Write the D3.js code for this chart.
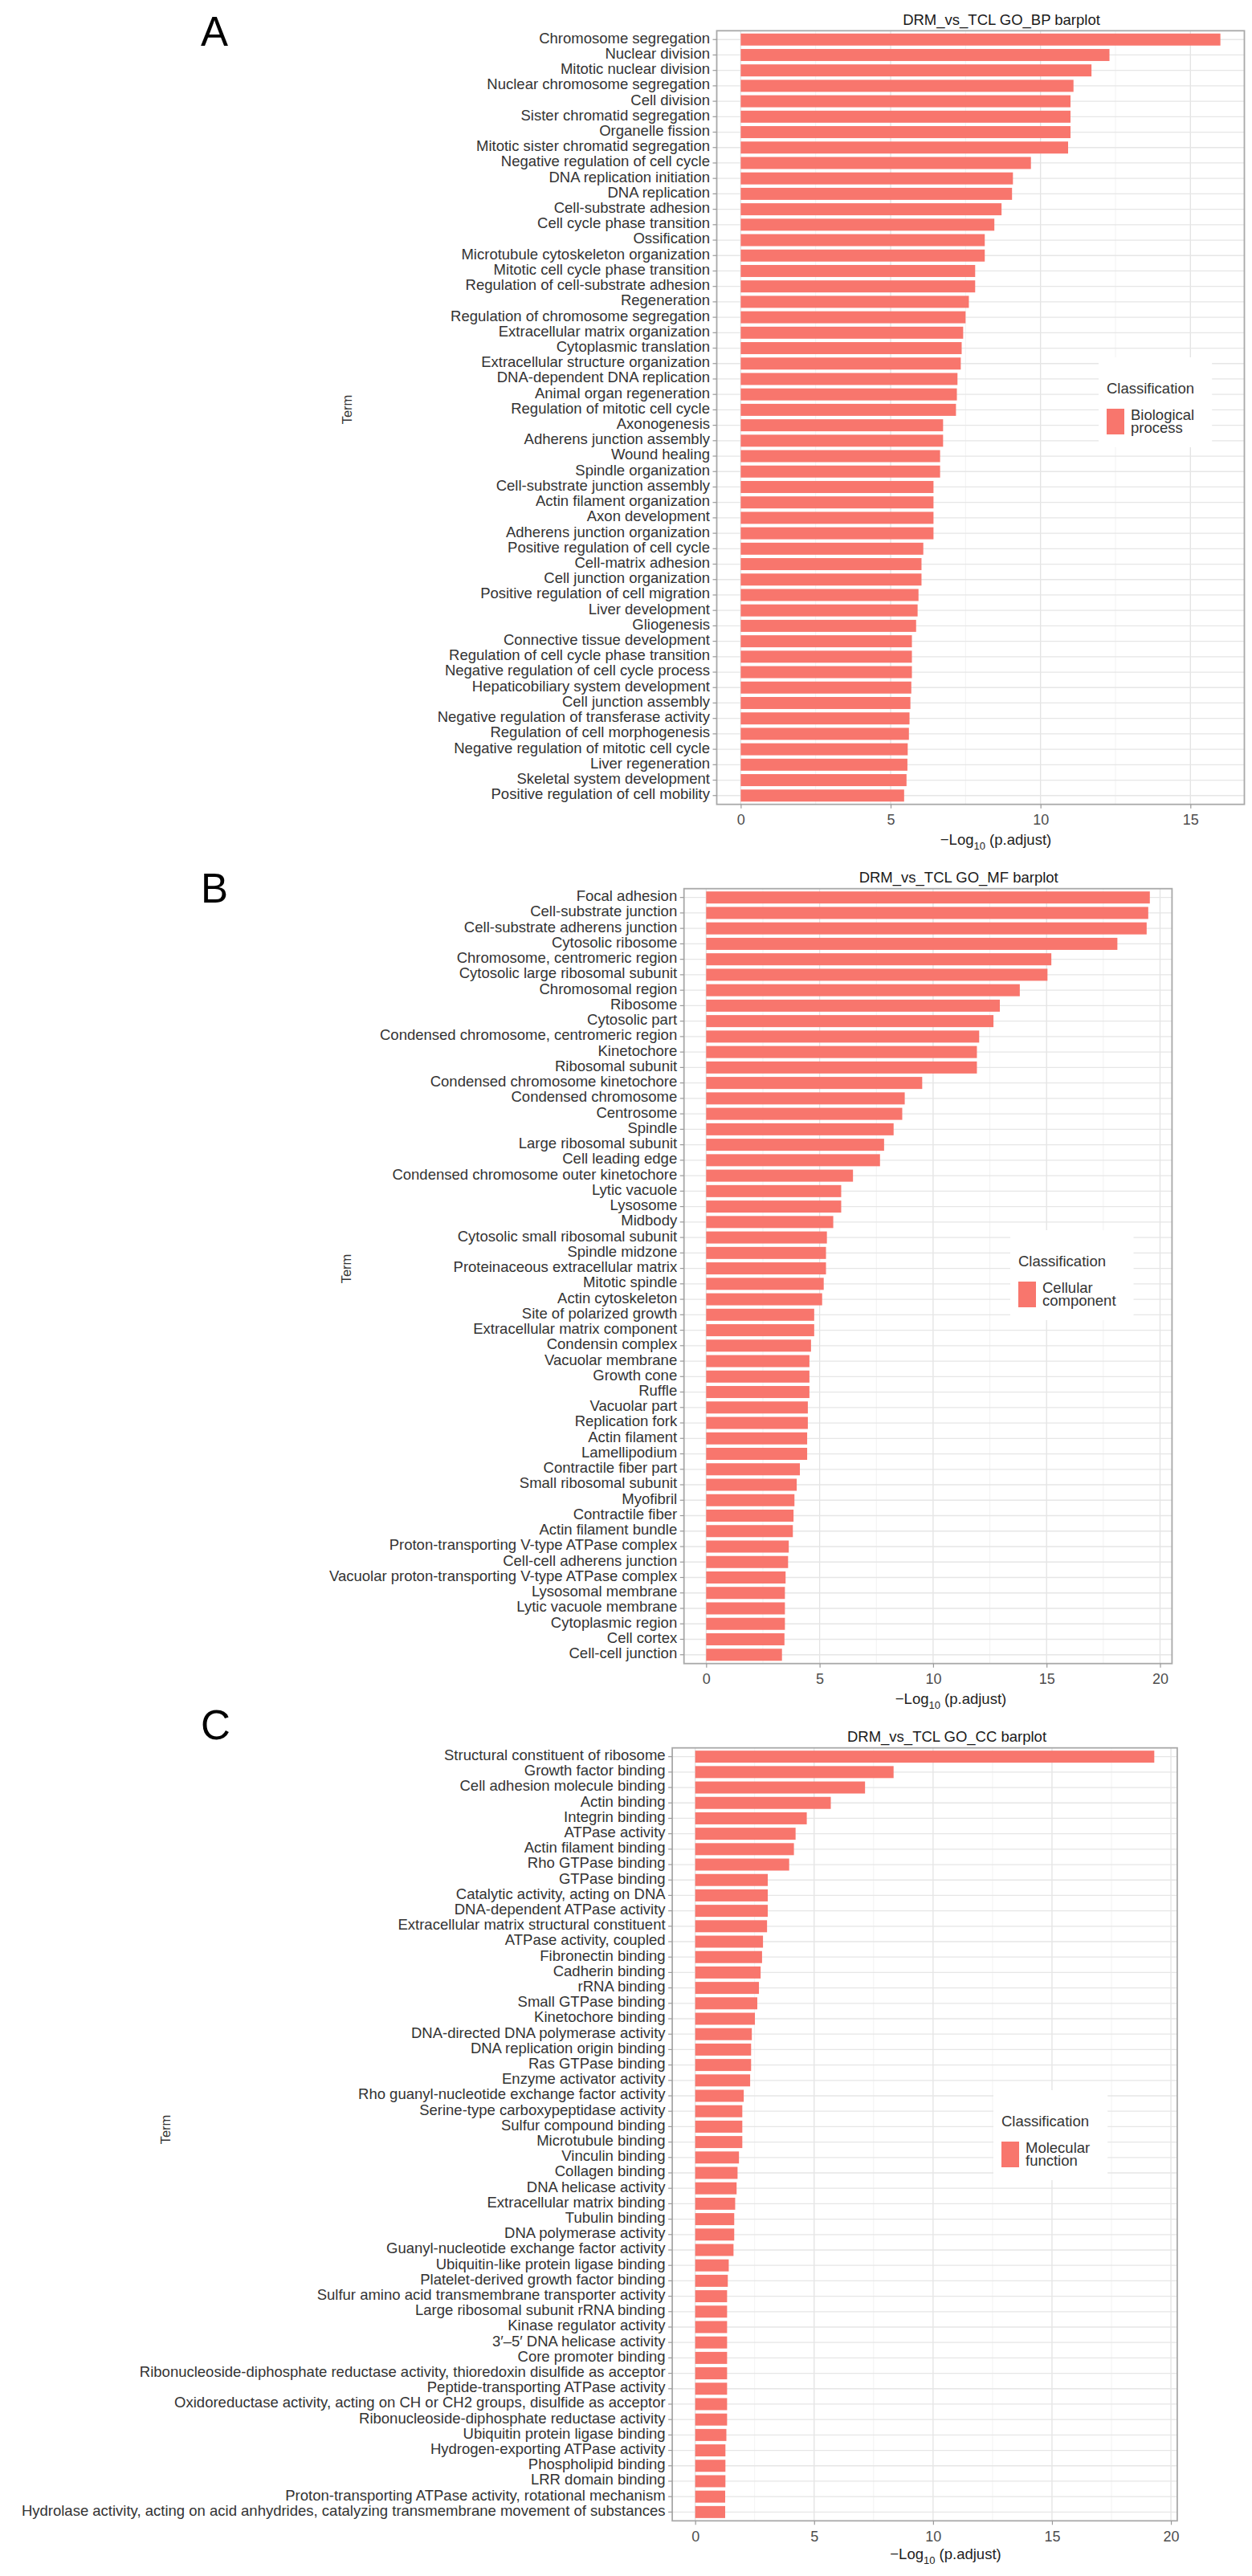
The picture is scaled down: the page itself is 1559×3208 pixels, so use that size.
<!DOCTYPE html>
<html>
<head>
<meta charset="utf-8">
<script src="https://cdn.jsdelivr.net/npm/d3@7"></script>
<style>
  body { margin: 0; background: #fff; }
  svg { display: block; }
  text { font-family: "Liberation Sans", Arial, Helvetica, sans-serif; }
</style>
</head>
<body>
<div id="chart"></div>
<script>
// ---- data ----
const bpTerms = [
  "Chromosome segregation", "Nuclear division", "Mitotic nuclear division",
  "Nuclear chromosome segregation", "Cell division", "Sister chromatid segregation",
  "Organelle fission", "Mitotic sister chromatid segregation", "Negative regulation of cell cycle",
  "DNA replication initiation", "DNA replication", "Cell-substrate adhesion",
  "Cell cycle phase transition", "Ossification", "Microtubule cytoskeleton organization",
  "Mitotic cell cycle phase transition", "Regulation of cell-substrate adhesion", "Regeneration",
  "Regulation of chromosome segregation", "Extracellular matrix organization", "Cytoplasmic translation",
  "Extracellular structure organization", "DNA-dependent DNA replication", "Animal organ regeneration",
  "Regulation of mitotic cell cycle", "Axonogenesis", "Adherens junction assembly",
  "Wound healing", "Spindle organization", "Cell-substrate junction assembly",
  "Actin filament organization", "Axon development", "Adherens junction organization",
  "Positive regulation of cell cycle", "Cell-matrix adhesion", "Cell junction organization",
  "Positive regulation of cell migration", "Liver development", "Gliogenesis",
  "Connective tissue development", "Regulation of cell cycle phase transition", "Negative regulation of cell cycle process",
  "Hepaticobiliary system development", "Cell junction assembly", "Negative regulation of transferase activity",
  "Regulation of cell morphogenesis", "Negative regulation of mitotic cell cycle", "Liver regeneration",
  "Skeletal system development", "Positive regulation of cell mobility"
];
const bpValues = [
  16.0, 12.3, 11.7, 11.1, 11.0, 11.0, 11.0, 10.92, 9.68, 9.08,
  9.05, 8.7, 8.46, 8.14, 8.14, 7.82, 7.82, 7.61, 7.5, 7.42,
  7.37, 7.34, 7.23, 7.21, 7.18, 6.75, 6.75, 6.65, 6.65, 6.43,
  6.43, 6.43, 6.43, 6.09, 6.03, 6.03, 5.93, 5.9, 5.85, 5.71,
  5.71, 5.71, 5.69, 5.66, 5.63, 5.61, 5.57, 5.56, 5.53, 5.45
];

const ccTerms = [
  "Focal adhesion", "Cell-substrate junction", "Cell-substrate adherens junction",
  "Cytosolic ribosome", "Chromosome, centromeric region", "Cytosolic large ribosomal subunit",
  "Chromosomal region", "Ribosome", "Cytosolic part",
  "Condensed chromosome, centromeric region", "Kinetochore", "Ribosomal subunit",
  "Condensed chromosome kinetochore", "Condensed chromosome", "Centrosome",
  "Spindle", "Large ribosomal subunit", "Cell leading edge",
  "Condensed chromosome outer kinetochore", "Lytic vacuole", "Lysosome",
  "Midbody", "Cytosolic small ribosomal subunit", "Spindle midzone",
  "Proteinaceous extracellular matrix", "Mitotic spindle", "Actin cytoskeleton",
  "Site of polarized growth", "Extracellular matrix component", "Condensin complex",
  "Vacuolar membrane", "Growth cone", "Ruffle",
  "Vacuolar part", "Replication fork", "Actin filament",
  "Lamellipodium", "Contractile fiber part", "Small ribosomal subunit",
  "Myofibril", "Contractile fiber", "Actin filament bundle",
  "Proton-transporting V-type ATPase complex", "Cell-cell adherens junction", "Vacuolar proton-transporting V-type ATPase complex",
  "Lysosomal membrane", "Lytic vacuole membrane", "Cytoplasmic region",
  "Cell cortex", "Cell-cell junction"
];
const ccValues = [
  19.55, 19.48, 19.41, 18.12, 15.21, 15.04, 13.82, 12.94, 12.66, 12.03,
  11.93, 11.93, 9.52, 8.75, 8.64, 8.26, 7.84, 7.66, 6.47, 5.95,
  5.95, 5.6, 5.32, 5.28, 5.28, 5.18, 5.11, 4.76, 4.76, 4.62,
  4.55, 4.55, 4.55, 4.48, 4.48, 4.45, 4.45, 4.13, 3.99, 3.89,
  3.85, 3.82, 3.64, 3.61, 3.5, 3.47, 3.47, 3.47, 3.45, 3.34
];

const mfTerms = [
  "Structural constituent of ribosome", "Growth factor binding", "Cell adhesion molecule binding",
  "Actin binding", "Integrin binding", "ATPase activity",
  "Actin filament binding", "Rho GTPase binding", "GTPase binding",
  "Catalytic activity, acting on DNA", "DNA-dependent ATPase activity", "Extracellular matrix structural constituent",
  "ATPase activity, coupled", "Fibronectin binding", "Cadherin binding",
  "rRNA binding", "Small GTPase binding", "Kinetochore binding",
  "DNA-directed DNA polymerase activity", "DNA replication origin binding", "Ras GTPase binding",
  "Enzyme activator activity", "Rho guanyl-nucleotide exchange factor activity", "Serine-type carboxypeptidase activity",
  "Sulfur compound binding", "Microtubule binding", "Vinculin binding",
  "Collagen binding", "DNA helicase activity", "Extracellular matrix binding",
  "Tubulin binding", "DNA polymerase activity", "Guanyl-nucleotide exchange factor activity",
  "Ubiquitin-like protein ligase binding", "Platelet-derived growth factor binding", "Sulfur amino acid transmembrane transporter activity",
  "Large ribosomal subunit rRNA binding", "Kinase regulator activity", "3\u2032\u20135\u2032 DNA helicase activity",
  "Core promoter binding", "Ribonucleoside-diphosphate reductase activity, thioredoxin disulfide as acceptor", "Peptide-transporting ATPase activity",
  "Oxidoreductase activity, acting on CH or CH2 groups, disulfide as acceptor", "Ribonucleoside-diphosphate reductase activity", "Ubiquitin protein ligase binding",
  "Hydrogen-exporting ATPase activity", "Phospholipid binding", "LRR domain binding",
  "Proton-transporting ATPase activity, rotational mechanism", "Hydrolase activity, acting on acid anhydrides, catalyzing transmembrane movement of substances"
];
const mfValues = [
  19.3, 8.34, 7.14, 5.7, 4.69, 4.22, 4.15, 3.95, 3.05, 3.05,
  3.05, 3.02, 2.85, 2.81, 2.75, 2.68, 2.61, 2.51, 2.38, 2.35,
  2.35, 2.31, 2.04, 1.98, 1.98, 1.98, 1.84, 1.78, 1.74, 1.68,
  1.64, 1.64, 1.61, 1.41, 1.37, 1.34, 1.34, 1.34, 1.34, 1.34,
  1.34, 1.34, 1.34, 1.34, 1.31, 1.27, 1.27, 1.27, 1.26, 1.26
];

const bpTicks = [0, 5, 10, 15];
const ccTicks = [0, 5, 10, 15, 20];
const mfTicks = [0, 5, 10, 15, 20];

// ---- layout of the three stacked panels ----
const panels = [
  { letter: "A", title: "DRM_vs_TCL GO_BP barplot", terms: bpTerms, values: bpValues, ticks: bpTicks,
    legend: ["Biological", "process"],
    left: 892.5, right: 1549.5, top: 38.3, bottom: 1001.7,
    titleX: 1247, axisTitleX: 1240, axisTitleY: 1051.7,
    termX: 431.7, termY: 510, letterY: 57, legendX: 1378, legendY: 490 },
  { letter: "B", title: "DRM_vs_TCL GO_MF barplot", terms: ccTerms, values: ccValues, ticks: ccTicks,
    legend: ["Cellular", "component"],
    left: 851.7, right: 1459.4, top: 1106.7, bottom: 2071.7,
    titleX: 1193.7, axisTitleX: 1184, axisTitleY: 2121.7,
    termX: 431, termY: 1580, letterY: 1124.4, legendX: 1268, legendY: 1577 },
  { letter: "C", title: "DRM_vs_TCL GO_CC barplot", terms: mfTerms, values: mfValues, ticks: mfTicks,
    legend: ["Molecular", "function"],
    left: 837.1, right: 1465.9, top: 2176.7, bottom: 3139.3,
    titleX: 1179, axisTitleX: 1177.5, axisTitleY: 3186.7,
    termX: 206, termY: 2652, letterY: 2166, legendX: 1247, legendY: 2648 }
];

const barColor = "#F8766D";
const labelSize = 18.5;

const svg = d3.select("#chart")
  .append("svg")
  .attr("width", 1559)
  .attr("height", 3208);

panels.forEach(drawPanel);

function drawPanel(p) {
  const g = svg.append("g");
  const max = d3.max(p.values);

  // ggplot-like 5% expansion on the continuous axis
  const x = d3.scaleLinear()
    .domain([-0.05 * max, 1.05 * max])
    .range([p.left, p.right]);

  const y = d3.scaleBand()
    .domain(p.terms)
    .range([p.top, p.bottom])
    .paddingInner(0.22)
    .paddingOuter(0.18);

  const xMax = x.domain()[1];
  const minor = d3.range(2.5, xMax, 5);
  const major = p.ticks.filter((t) => t <= xMax);

  // grid
  g.selectAll(".minor")
    .data(minor)
    .join("line")
    .attr("x1", (d) => x(d))
    .attr("x2", (d) => x(d))
    .attr("y1", p.top)
    .attr("y2", p.bottom)
    .attr("stroke", "#f1f1f1")
    .attr("stroke-width", 0.9);

  g.selectAll(".major")
    .data(major)
    .join("line")
    .attr("x1", (d) => x(d))
    .attr("x2", (d) => x(d))
    .attr("y1", p.top)
    .attr("y2", p.bottom)
    .attr("stroke", "#e3e3e3")
    .attr("stroke-width", 1.3);

  g.selectAll(".hgrid")
    .data(p.terms)
    .join("line")
    .attr("x1", p.left)
    .attr("x2", p.right)
    .attr("y1", (d) => y(d) + y.bandwidth() / 2)
    .attr("y2", (d) => y(d) + y.bandwidth() / 2)
    .attr("stroke", "#e6e6e6")
    .attr("stroke-width", 1.3);

  // bars
  g.selectAll(".bar")
    .data(p.terms.map((t, i) => ({ term: t, value: p.values[i] })))
    .join("rect")
    .attr("x", x(0))
    .attr("y", (d) => y(d.term))
    .attr("width", (d) => x(d.value) - x(0))
    .attr("height", y.bandwidth())
    .attr("fill", barColor);

  // legend (sits inside the panel on a white box)
  const lg = g.append("g");
  const box = lg.append("rect").attr("fill", "#fff");
  const lt = lg.append("text")
    .attr("x", p.legendX)
    .attr("y", p.legendY)
    .attr("font-size", labelSize)
    .attr("fill", "#333")
    .text("Classification");
  lg.append("rect")
    .attr("x", p.legendX)
    .attr("y", p.legendY + 19)
    .attr("width", 22)
    .attr("height", 32)
    .attr("fill", barColor);
  let labelW = 0;
  p.legend.forEach((line, i) => {
    const t = lg.append("text")
      .attr("x", p.legendX + 30)
      .attr("y", p.legendY + 33 + i * 15.5)
      .attr("font-size", labelSize)
      .attr("fill", "#333")
      .text(line);
    labelW = Math.max(labelW, t.node().getComputedTextLength());
  });
  const boxW = Math.max(lt.node().getComputedTextLength(), 30 + labelW) + 32;
  box.attr("x", p.legendX - 10)
    .attr("y", p.legendY - 45)
    .attr("width", boxW)
    .attr("height", 112);

  // panel border
  g.append("rect")
    .attr("x", p.left)
    .attr("y", p.top)
    .attr("width", p.right - p.left)
    .attr("height", p.bottom - p.top)
    .attr("fill", "none")
    .attr("stroke", "#a9a9a9")
    .attr("stroke-width", 1.8);

  // y axis (terms)
  const yAxis = g.append("g")
    .attr("transform", `translate(${p.left},0)`)
    .call(d3.axisLeft(y).tickSize(5).tickPadding(3.5));
  yAxis.select(".domain").remove();
  yAxis.selectAll(".tick line").attr("stroke", "#9a9a9a").attr("stroke-width", 1.2);
  yAxis.selectAll(".tick text")
    .attr("font-size", labelSize)
    .attr("font-family", null)
    .attr("fill", "#333")
    .attr("dy", "0.24em");

  // x axis
  const xAxis = g.append("g")
    .attr("transform", `translate(0,${p.bottom})`)
    .call(d3.axisBottom(x).tickValues(p.ticks).tickSize(5).tickPadding(7.5));
  xAxis.select(".domain").remove();
  xAxis.selectAll(".tick line").attr("stroke", "#9a9a9a").attr("stroke-width", 1.2);
  xAxis.selectAll(".tick text")
    .attr("font-size", 18)
    .attr("font-family", null)
    .attr("fill", "#4d4d4d");

  // titles
  g.append("text")
    .attr("x", p.titleX)
    .attr("y", p.top - 7.4)
    .attr("text-anchor", "middle")
    .attr("font-size", labelSize)
    .attr("fill", "#1a1a1a")
    .text(p.title);

  const at = g.append("text")
    .attr("x", p.axisTitleX)
    .attr("y", p.axisTitleY)
    .attr("text-anchor", "middle")
    .attr("font-size", 18.5)
    .attr("fill", "#222");
  at.append("tspan").text("\u2212Log");
  at.append("tspan").attr("font-size", 13).attr("dy", 6.5).text("10");
  at.append("tspan").attr("dy", -6.5).text(" (p.adjust)");

  g.append("text")
    .attr("transform", `translate(${p.termX + 6},${p.termY}) rotate(-90)`)
    .attr("text-anchor", "middle")
    .attr("font-size", 16.5)
    .attr("fill", "#333")
    .text("Term");

  // panel letter
  g.append("text")
    .attr("x", 250)
    .attr("y", p.letterY)
    .attr("font-size", 51)
    .attr("fill", "#000")
    .text(p.letter);
}
</script>
</body>
</html>
